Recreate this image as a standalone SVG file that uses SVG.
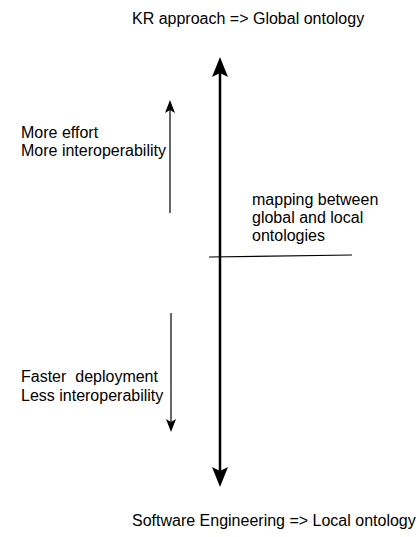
<svg xmlns="http://www.w3.org/2000/svg" width="419" height="537" viewBox="0 0 419 537">
<style>
text{font-family:"Liberation Sans",Arial,sans-serif;font-size:16px;fill:#000}
.big{stroke:#000;stroke-width:2.5;fill:none}
.thin{stroke:#000;stroke-width:1.2;fill:none}
</style>
<defs>
<marker id="bigHead" markerUnits="userSpaceOnUse" orient="auto-start-reverse" refX="0" refY="0" markerWidth="30" markerHeight="30" overflow="visible">
<path d="M16,0 L-4,-8 L0,0 L-4,8 Z" fill="#000"/>
</marker>
<marker id="smallHead" markerUnits="userSpaceOnUse" orient="auto-start-reverse" refX="0" refY="0" markerWidth="20" markerHeight="20" overflow="visible">
<path d="M10,0 L-3,-5 L0,0 L-3,5 Z" fill="#000"/>
</marker>
</defs>
<rect width="419" height="537" fill="#fff"/>
<g id="connectors">
<path id="main-axis" class="big" d="M220,471 L220,73" marker-start="url(#bigHead)" marker-end="url(#bigHead)"/>
<path id="up-arrow" class="thin" d="M170,213 L170,110" marker-end="url(#smallHead)"/>
<path id="down-arrow" class="thin" d="M171,313 L171,422" marker-end="url(#smallHead)"/>
<path id="mapping-line" class="thin" d="M209,257 L352,255"/>
</g>
<g id="top-label"><text x="132" y="24">KR approach =&gt; Global ontology</text></g>
<g id="upper-label"><text x="21" y="138">More effort</text><text x="21" y="156">More interoperability</text></g>
<g id="mapping-label"><text x="252" y="205">mapping between</text><text x="252" y="223">global and local</text><text x="252" y="241">ontologies</text></g>
<g id="lower-label"><text x="21" y="382" xml:space="preserve">Faster  deployment</text><text x="21" y="401">Less interoperability</text></g>
<g id="bottom-label"><text x="132" y="526">Software Engineering =&gt; Local ontology</text></g>
</svg>
